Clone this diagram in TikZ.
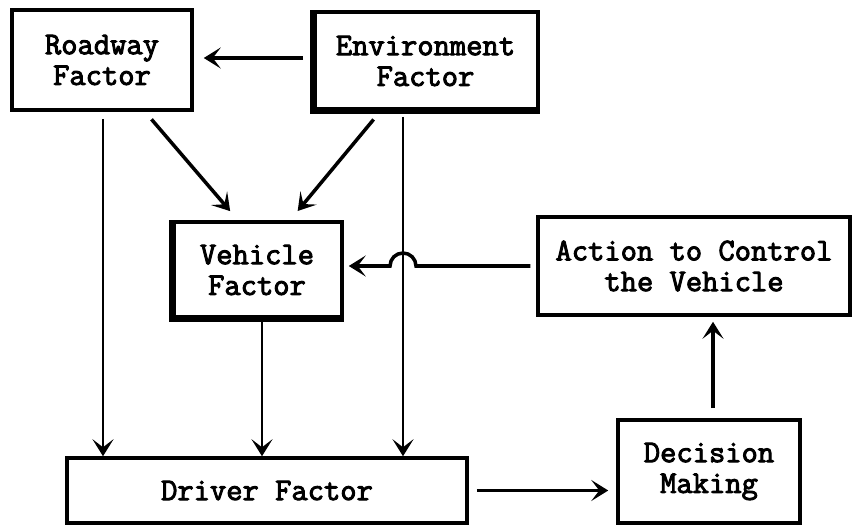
\documentclass[tikz,border=0pt]{standalone}
\usepackage{fontspec}
\newfontfamily\boxfont{Latin Modern Mono}[FakeBold=3]
\usepackage{tikz}
\usetikzlibrary{arrows.meta}

\begin{document}
\begin{tikzpicture}[box/.style={draw, line width=2pt, inner sep=0pt, align=center, font=\boxfont\fontsize{18}{17.5}\selectfont},
arr/.style={line width=1.6pt, -{Stealth[length=3.4mm,width=4.2mm,inset=1.6mm]}}]
\useasboundingbox (0,0) rectangle (17.1,10.56);

\node[box, minimum width=3.6cm, minimum height=2cm] (road) at (2.04,9.36) {Roadway\\Factor};
\node[box, minimum width=4.5cm, minimum height=1.96cm] (env) at (8.51,9.34) {Environment\\Factor};
\node[box, minimum width=3.4cm, minimum height=1.92cm] (veh) at (5.14,5.16) {Vehicle\\Factor};
\node[box, minimum width=6.24cm, minimum height=1.96cm] (act) at (13.88,5.24) {Action to Control\\the Vehicle};
\node[box, minimum width=8cm, minimum height=1.3cm] (drv) at (5.34,0.75) {Driver Factor};
\node[box, minimum width=3.64cm, minimum height=2.06cm] (dec) at (14.18,1.13) {Decision\\Making};

% heavy left and bottom edges
\draw[line width=4pt] ([xshift=1.5pt]env.north west) -- ([xshift=1.5pt,yshift=0.8pt]env.south west) -- ([yshift=0.8pt]env.south east);
\draw[line width=4pt] ([xshift=1.5pt]veh.north west) -- ([xshift=1.5pt,yshift=0.8pt]veh.south west) -- ([yshift=0.8pt]veh.south east);

\draw[arr, line width=2pt, shorten <=0.16cm, shorten >=0.2cm] ([yshift=0.06cm]env.west) -- ([yshift=0.06cm]env.west -| road.east);
\draw[arr, line width=2pt, shorten <=0.2cm, shorten >=0.24cm] ([xshift=0.86cm]road.south) -- ([xshift=-0.38cm]veh.north);
\draw[arr, line width=2pt, shorten <=0.2cm, shorten >=0.24cm] ([xshift=-0.91cm]env.south) -- ([xshift=0.66cm]veh.north);

\coordinate (envdown) at ([xshift=-0.45cm]env.south);
\coordinate (hop) at (envdown |- act.west);
\draw[arr] ([xshift=0.02cm]road.south) ++(0,-0.14) -- ([xshift=0.02cm]road.south |- drv.north);
\draw[arr] ([xshift=0.1cm]veh.south) ++(0,-0.04) -- ([xshift=0.1cm]veh.south |- drv.north);
\draw[arr] (envdown) ++(0,-0.1) -- (envdown |- drv.north);

\draw[arr, line width=2pt, shorten <=0.16cm, shorten >=0.16cm] (drv.east) -- (drv.east -| dec.west);
\draw[arr, line width=2pt, shorten <=0.2cm, shorten >=0.1cm] ([xshift=0.08cm]dec.north) -- ([xshift=0.08cm]dec.north |- act.south);
\draw[arr, line width=2pt, shorten <=0.12cm, shorten >=0.1cm] (act.west) -- ([xshift=0.26cm]hop) arc[start angle=0, end angle=180, radius=0.26cm] -- (hop -| veh.east);
\end{tikzpicture}
\end{document}
